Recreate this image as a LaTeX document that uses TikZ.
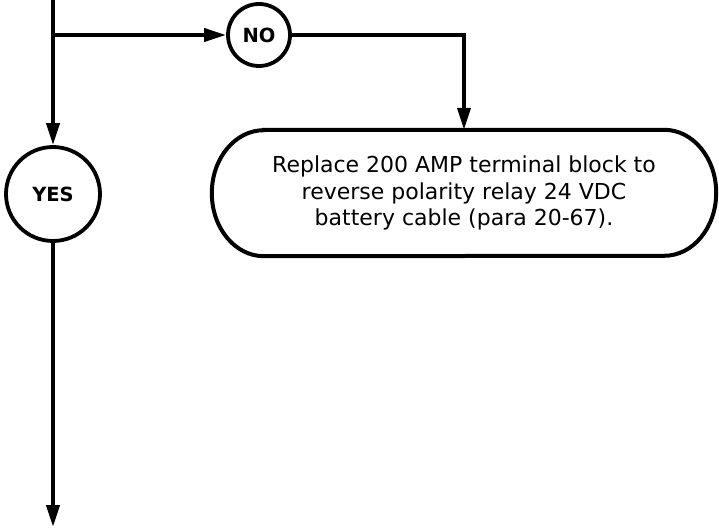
\documentclass[tikz,border=0pt]{standalone}
\usepackage{fontspec}
\setmainfont{DejaVu Sans}
\usetikzlibrary{arrows.meta}
\begin{document}
\begin{tikzpicture}[x=1pt,y=1pt,
  conn/.style={line width=4pt},
  arr/.style={conn,-{Triangle[length=22pt,width=13pt]}},
  decision/.style={circle,draw,line width=3.8pt,inner sep=0pt,font=\bfseries\fontsize{19.5}{22}\selectfont},
  actiontext/.style={rectangle,inner sep=0pt,minimum width=504pt,minimum height=126pt,align=center,font=\fontsize{22}{26.5}\selectfont}
]
\useasboundingbox (0,0) rectangle (719,-529);
\coordinate (top) at (53,0);
\coordinate (junc) at (53,-35);
\node[decision,minimum size=62pt] (no) at (259,-35) {NO};
\node[decision,minimum size=94pt] (yes) at (53,-194) {YES};
\node[actiontext] (box) at (464,-193) {Replace 200 AMP terminal block to\\reverse polarity relay 24 VDC\\battery cable (para 20-67).};
\coordinate (bottom) at (53,-527);
\draw[line width=4pt] ([xshift=52pt]box.north west) -- ([xshift=-52pt]box.north east)
  arc[start angle=90,end angle=-90,x radius=52pt,y radius=63pt]
  -- ([xshift=52pt]box.south west)
  arc[start angle=270,end angle=90,x radius=52pt,y radius=63pt] -- cycle;
\draw[conn] (top) -- (junc);
\draw[arr] (junc) -- (yes.north);
\draw[arr] (junc) -- (no.west);
\draw[arr] (no.east) -| (box.north);
\draw[arr] (yes.south) -- (bottom);
\end{tikzpicture}
\end{document}
